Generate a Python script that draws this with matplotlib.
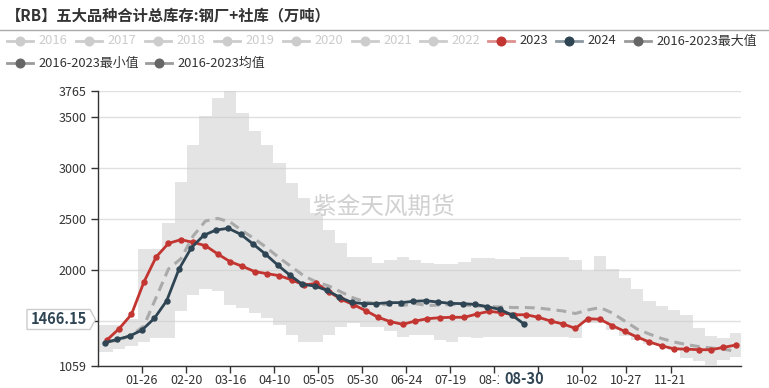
import matplotlib
matplotlib.use('Agg')
import matplotlib.pyplot as plt
from matplotlib.lines import Line2D
from matplotlib.patches import Polygon, Rectangle
import numpy as np

plt.rcParams['font.family'] = ['Noto Sans CJK SC', 'DejaVu Sans']

W, H = 769, 388

title = '【RB】五大品种合计总库存:钢厂+社库（万吨）'
watermark = '紫金天风期货'
inactive_years = ['2016', '2017', '2018', '2019', '2020', '2021', '2022']
label_2023 = '2023'
label_2024 = '2024'
label_max = '2016-2023最大值'
label_min = '2016-2023最小值'
label_mean = '2016-2023均值'

# weekly data, x = day index in year (0 = 01-01)
days_2023 = 5 + 7 * np.arange(52)
vals_2023 = [1311, 1423, 1564, 1879, 2128, 2262, 2298, 2272, 2239, 2157,
             2082, 2036, 1984, 1964, 1944, 1902, 1852, 1869, 1787, 1712,
             1659, 1600, 1535, 1492, 1466, 1498, 1521, 1531, 1535, 1535,
             1567, 1594, 1580, 1560, 1560, 1535, 1498, 1469, 1426, 1521,
             1515, 1452, 1397, 1341, 1292, 1254, 1225, 1222, 1216, 1216,
             1239, 1262]

days_2024 = 4 + 7 * np.arange(35)
vals_2024 = [1285, 1318, 1351, 1410, 1525, 1698, 2010, 2219, 2341, 2393,
             2410, 2351, 2256, 2157, 2049, 1948, 1859, 1843, 1800, 1734,
             1682, 1669, 1669, 1679, 1679, 1692, 1698, 1685, 1672, 1669,
             1662, 1639, 1613, 1557, 1466.15]

days_hist = 5 + 7 * np.arange(52)
vals_max = [1459, 1459, 1520, 2204, 2204, 2462, 2866, 3230, 3515, 3692,
            3765, 3544, 3367, 3230, 3052, 2856, 2708, 2561, 2393, 2266,
            2128, 2128, 2069, 2098, 2128, 2100, 2069, 2059, 2059, 2079,
            2118, 2118, 2108, 2108, 2128, 2128, 2128, 2128, 2098, 1993,
            2138, 2007, 1918, 1810, 1698, 1646, 1607, 1557, 1426, 1351,
            1328, 1377]
vals_min = [1196, 1220, 1252, 1295, 1328, 1328, 1600, 1754, 1810, 1797,
            1656, 1623, 1574, 1525, 1459, 1365, 1289, 1289, 1361, 1442,
            1476, 1442, 1442, 1403, 1344, 1361, 1361, 1311, 1295, 1338,
            1328, 1338, 1338, 1338, 1338, 1338, 1338, 1338, 1328, 1476,
            1476, 1410, 1351, 1311, 1272, 1252, 1213, 1131, 1108, 1070,
            1115, 1141]
vals_mean = [1292, 1311, 1360, 1449, 1730, 2010, 2110, 2334, 2482, 2507,
             2472, 2384, 2305, 2216, 2118, 2030, 1941, 1882, 1843, 1784,
             1725, 1685, 1666, 1656, 1651, 1670, 1651, 1656, 1660, 1656,
             1646, 1641, 1636, 1631, 1631, 1626, 1612, 1597, 1572, 1607,
             1631, 1577, 1498, 1420, 1370, 1326, 1292, 1267, 1247, 1233,
             1220, 1203]

y_ticks = [1059, 1500, 2000, 2500, 3000, 3500, 3765]
y_ticklabels = ['1059', '', '2000', '2500', '3000', '3500', '3765']
x_ticks = [25, 50, 75, 100, 125, 150, 175, 200, 225, 250, 275, 300, 325]
x_ticklabels = ['01-26', '02-20', '03-16', '04-10', '05-05', '05-30', '06-24',
                '07-19', '08-13', '', '10-02', '10-27', '11-21']
pointer_x = 242
pointer_x_label = '08-30'
pointer_y_label = '1466.15'

C2023 = '#c23531'
C2024 = '#2f4554'

fig = plt.figure(figsize=(W / 100, H / 100), dpi=100)
ax = fig.add_axes([98 / W, 1 - 365.7 / H, 643 / W, 275.2 / H])
ax.set_xlim(0, 365)
ax.set_ylim(1059, 3765)

# band (stepped)
edges = np.append(days_hist - 3.5, days_hist[-1] + 3.5).astype(float)
edges[0] = 0
edges[-1] = 365
bmax = np.append(vals_max, vals_max[-1])
bmin = np.append(vals_min, vals_min[-1])
ax.fill_between(edges, bmin, bmax, step='post', color='#cccccc', alpha=0.52,
                lw=0, zorder=2)

ax.plot(days_hist, vals_mean, color='#aaaaaa', lw=2.2, ls=(0, (3.2, 2)),
        zorder=4)
ax.plot(days_2023, vals_2023, color=C2023, lw=2, marker='o', ms=3.6,
        zorder=5)
ax.plot(days_2024, vals_2024, color=C2024, lw=2, marker='o', ms=3.6,
        zorder=6)

ax.set_axisbelow(True)
ax.grid(axis='y', color='#e0e0e0', lw=1)
ax.set_yticks(y_ticks)
ax.set_yticklabels(y_ticklabels)
ax.set_xticks(x_ticks)
ax.set_xticklabels(x_ticklabels)
for s in ['top', 'right']:
    ax.spines[s].set_visible(False)
for s in ['left', 'bottom']:
    ax.spines[s].set_color('#333333')
    ax.spines[s].set_linewidth(1)
ax.tick_params(axis='both', length=5, width=1, color='#333333',
               labelsize=9, labelcolor='#333333')
ax.tick_params(axis='y', pad=3)
ax.tick_params(axis='x', pad=1.2)

# watermark
ax.text(0.445, 0.575, watermark, transform=ax.transAxes, fontsize=17,
        color='#c8c8c8', alpha=0.85, ha='center', va='center', zorder=10)


def fx(px):
    return px / W


def fy(py):
    return 1 - py / H


# x pointer label (white box covering the tick labels beneath)
px_pointer = ax.transData.transform((pointer_x, 2000))[0]
fig.add_artist(Rectangle((fx(px_pointer - 25), fy(388)), 50 / W, 15.5 / H,
                         facecolor='white', edgecolor='none',
                         transform=fig.transFigure, zorder=19))
fig.text(fx(px_pointer), fy(379.5), pointer_x_label, ha='center', va='center',
         fontsize=10.5, fontweight='bold', color=C2024, zorder=21)

# y pointer label box
poly = Polygon([(fx(27), fy(309.5)), (fx(90), fy(309.5)), (fx(95.5), fy(319.5)),
                (fx(90), fy(329.5)), (fx(27), fy(329.5))], closed=True,
               facecolor='white', edgecolor='#cccccc', lw=1,
               transform=fig.transFigure, zorder=20)
fig.add_artist(poly)
fig.text(fx(59), fy(319.5), pointer_y_label, ha='center', va='center',
         fontsize=10.5, fontweight='bold', color=C2024, zorder=21)

# title & separator
fig.text(fx(6), fy(15), title, fontsize=11, fontweight='bold', color='#333333',
         va='center', ha='left')
fig.add_artist(Line2D([0, 1], [fy(29.5), fy(29.5)], color='#aaaaaa', lw=1,
                      transform=fig.transFigure))


def legend_item(x_icon, y, label, line_color, marker_color, text_color,
                line_alpha=1.0):
    fig.add_artist(Line2D([fx(x_icon), fx(x_icon + 26)], [fy(y), fy(y)],
                          color=line_color, lw=2, alpha=line_alpha,
                          transform=fig.transFigure))
    fig.add_artist(Line2D([fx(x_icon + 13)], [fy(y)], marker='o', ms=6.2,
                          color=marker_color, lw=0, transform=fig.transFigure))
    fig.text(fx(x_icon + 31), fy(y), label, color=text_color, fontsize=9.3,
             va='center', ha='left')


xs_row1 = [7, 76, 145, 214, 283, 352, 420]
for x0, lab in zip(xs_row1, inactive_years):
    legend_item(x0, 41, lab, '#cccccc', '#cccccc', '#cccccc')
legend_item(488, 41, label_2023, C2023, C2023, '#333333', 0.55)
legend_item(556, 41, label_2024, C2024, C2024, '#333333', 0.55)
legend_item(625, 41, label_max, '#666666', '#666666', '#333333', 0.65)
legend_item(7, 63, label_min, '#666666', '#666666', '#333333', 0.65)
legend_item(146, 63, label_mean, '#666666', '#666666', '#333333', 0.65)

fig.savefig('out.png', dpi=100)
